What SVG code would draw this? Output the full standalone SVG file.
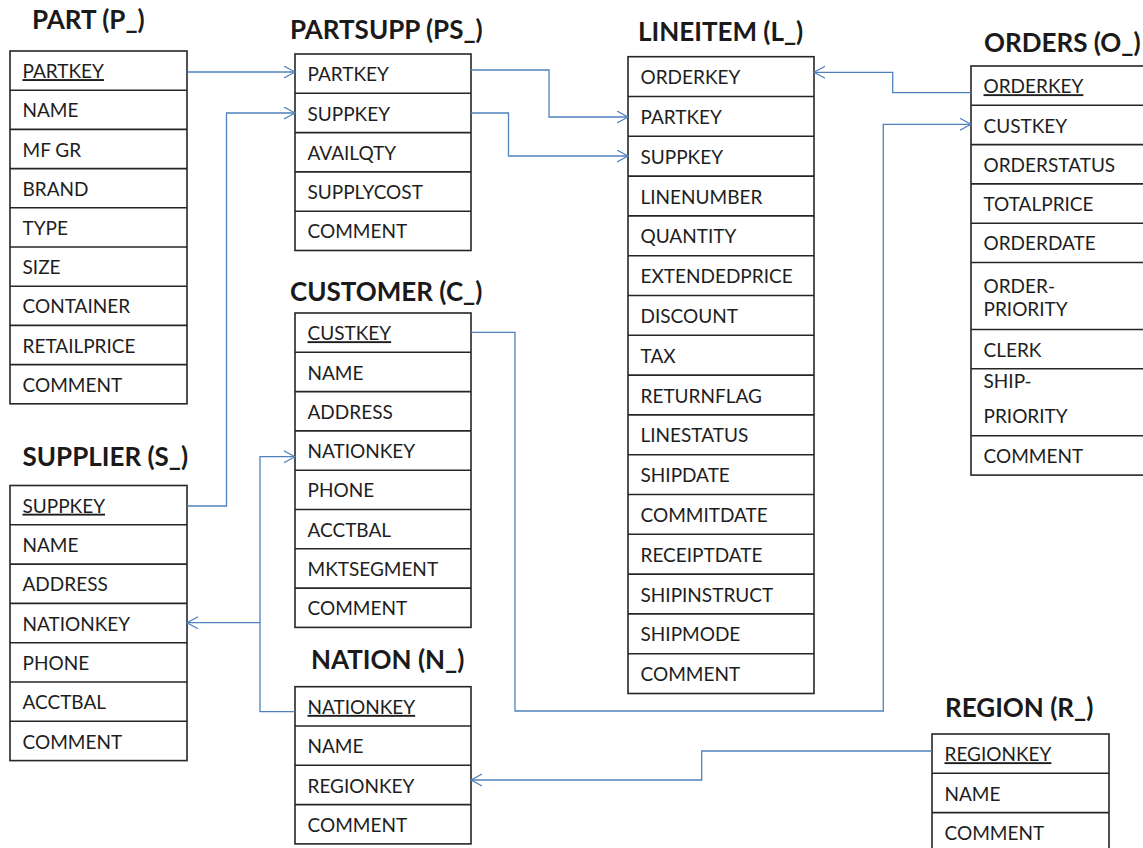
<svg xmlns="http://www.w3.org/2000/svg" width="1143" height="848" viewBox="0 0 1143 848">
  <style>
    .tbl rect, .tbl line { fill: none; stroke: #262626; stroke-width: 1.6; }
    .tbl rect.bg { fill: #ffffff; }
    .fld { font-family: Lato, "Noto Sans", "Liberation Sans", sans-serif; font-size: 19px; fill: #1e1e1e; }
    .key { text-decoration: underline; }
    .ttl { font-family: Lato, "Noto Sans", "Liberation Sans", sans-serif; font-size: 26px; font-weight: bold; fill: #1a1a1a; }
    .conn path { fill: none; stroke: #4f81bd; stroke-width: 1.3; }
    .conn .arw { marker-end: url(#open); }
  </style>
  <defs>
    <marker id="open" markerUnits="userSpaceOnUse" markerWidth="14" markerHeight="14" refX="11" refY="6.5" orient="auto">
      <path d="M0,0.5 L11,6.5 L0,12.5" fill="none" stroke="#4f81bd" stroke-width="1.2"/>
    </marker>
  </defs>
  <rect width="1143" height="848" fill="#ffffff"/>

  <!-- PART -->
  <g id="part" class="tbl">
    <text class="ttl" x="32" y="29">PART (P_)</text>
    <rect class="bg" x="10" y="51" width="177" height="352.8"/>
    <line x1="10" y1="90.2" x2="187" y2="90.2"/>
    <line x1="10" y1="129.4" x2="187" y2="129.4"/>
    <line x1="10" y1="168.6" x2="187" y2="168.6"/>
    <line x1="10" y1="207.8" x2="187" y2="207.8"/>
    <line x1="10" y1="247" x2="187" y2="247"/>
    <line x1="10" y1="286.2" x2="187" y2="286.2"/>
    <line x1="10" y1="325.4" x2="187" y2="325.4"/>
    <line x1="10" y1="364.6" x2="187" y2="364.6"/>
    <text class="fld key" x="22.5" y="78.1">PARTKEY</text>
    <text class="fld" x="22.5" y="117.3">NAME</text>
    <text class="fld" x="22.5" y="156.5">MF GR</text>
    <text class="fld" x="22.5" y="195.7">BRAND</text>
    <text class="fld" x="22.5" y="234.9">TYPE</text>
    <text class="fld" x="22.5" y="274.1">SIZE</text>
    <text class="fld" x="22.5" y="313.3">CONTAINER</text>
    <text class="fld" x="22.5" y="352.5">RETAILPRICE</text>
    <text class="fld" x="22.5" y="391.7">COMMENT</text>
  </g>

  <!-- PARTSUPP -->
  <g id="partsupp" class="tbl">
    <text class="ttl" x="290" y="39">PARTSUPP (PS_)</text>
    <rect class="bg" x="295" y="54" width="176" height="196.5"/>
    <line x1="295" y1="93.3" x2="471" y2="93.3"/>
    <line x1="295" y1="132.6" x2="471" y2="132.6"/>
    <line x1="295" y1="171.9" x2="471" y2="171.9"/>
    <line x1="295" y1="211.2" x2="471" y2="211.2"/>
    <text class="fld" x="307.5" y="81.2">PARTKEY</text>
    <text class="fld" x="307.5" y="120.5">SUPPKEY</text>
    <text class="fld" x="307.5" y="159.8">AVAILQTY</text>
    <text class="fld" x="307.5" y="199.1">SUPPLYCOST</text>
    <text class="fld" x="307.5" y="238.4">COMMENT</text>
  </g>

  <!-- LINEITEM -->
  <g id="lineitem" class="tbl">
    <text class="ttl" x="638" y="41">LINEITEM (L_)</text>
    <rect class="bg" x="628" y="56.7" width="186" height="636.8"/>
    <line x1="628" y1="96.5" x2="814" y2="96.5"/>
    <line x1="628" y1="136.3" x2="814" y2="136.3"/>
    <line x1="628" y1="176.1" x2="814" y2="176.1"/>
    <line x1="628" y1="215.9" x2="814" y2="215.9"/>
    <line x1="628" y1="255.7" x2="814" y2="255.7"/>
    <line x1="628" y1="295.5" x2="814" y2="295.5"/>
    <line x1="628" y1="335.3" x2="814" y2="335.3"/>
    <line x1="628" y1="375.1" x2="814" y2="375.1"/>
    <line x1="628" y1="414.9" x2="814" y2="414.9"/>
    <line x1="628" y1="454.7" x2="814" y2="454.7"/>
    <line x1="628" y1="494.5" x2="814" y2="494.5"/>
    <line x1="628" y1="534.3" x2="814" y2="534.3"/>
    <line x1="628" y1="574.1" x2="814" y2="574.1"/>
    <line x1="628" y1="613.9" x2="814" y2="613.9"/>
    <line x1="628" y1="653.7" x2="814" y2="653.7"/>
    <text class="fld" x="640.5" y="84.1">ORDERKEY</text>
    <text class="fld" x="640.5" y="123.9">PARTKEY</text>
    <text class="fld" x="640.5" y="163.7">SUPPKEY</text>
    <text class="fld" x="640.5" y="203.5">LINENUMBER</text>
    <text class="fld" x="640.5" y="243.3">QUANTITY</text>
    <text class="fld" x="640.5" y="283.1">EXTENDEDPRICE</text>
    <text class="fld" x="640.5" y="322.9">DISCOUNT</text>
    <text class="fld" x="640.5" y="362.7">TAX</text>
    <text class="fld" x="640.5" y="402.5">RETURNFLAG</text>
    <text class="fld" x="640.5" y="442.3">LINESTATUS</text>
    <text class="fld" x="640.5" y="482.1">SHIPDATE</text>
    <text class="fld" x="640.5" y="521.9">COMMITDATE</text>
    <text class="fld" x="640.5" y="561.7">RECEIPTDATE</text>
    <text class="fld" x="640.5" y="601.5">SHIPINSTRUCT</text>
    <text class="fld" x="640.5" y="641.3">SHIPMODE</text>
    <text class="fld" x="640.5" y="681.1">COMMENT</text>
  </g>

  <!-- ORDERS (box runs past the right edge) -->
  <g id="orders" class="tbl">
    <text class="ttl" x="984" y="51.5">ORDERS (O_)</text>
    <rect class="bg" x="971" y="66" width="190" height="409.1"/>
    <line x1="971" y1="105.3" x2="1161" y2="105.3"/>
    <line x1="971" y1="144.6" x2="1161" y2="144.6"/>
    <line x1="971" y1="183.9" x2="1161" y2="183.9"/>
    <line x1="971" y1="223.2" x2="1161" y2="223.2"/>
    <line x1="971" y1="262.5" x2="1161" y2="262.5"/>
    <line x1="971" y1="329.5" x2="1161" y2="329.5"/>
    <line x1="971" y1="368.8" x2="1161" y2="368.8"/>
    <line x1="971" y1="435.8" x2="1161" y2="435.8"/>
    <text class="fld key" x="983.5" y="93.2">ORDERKEY</text>
    <text class="fld" x="983.5" y="132.5">CUSTKEY</text>
    <text class="fld" x="983.5" y="171.8">ORDERSTATUS</text>
    <text class="fld" x="983.5" y="211.1">TOTALPRICE</text>
    <text class="fld" x="983.5" y="250.4">ORDERDATE</text>
    <text class="fld" x="983.5" y="293.3">ORDER-</text>
    <text class="fld" x="983.5" y="316.3">PRIORITY</text>
    <text class="fld" x="983.5" y="356.6">CLERK</text>
    <text class="fld" x="983.5" y="388">SHIP-</text>
    <text class="fld" x="983.5" y="423.3">PRIORITY</text>
    <text class="fld" x="983.5" y="462.9">COMMENT</text>
  </g>

  <!-- CUSTOMER -->
  <g id="customer" class="tbl">
    <text class="ttl" x="290" y="300.7">CUSTOMER (C_)</text>
    <rect class="bg" x="295" y="313" width="176" height="314.4"/>
    <line x1="295" y1="352.3" x2="471" y2="352.3"/>
    <line x1="295" y1="391.6" x2="471" y2="391.6"/>
    <line x1="295" y1="430.9" x2="471" y2="430.9"/>
    <line x1="295" y1="470.2" x2="471" y2="470.2"/>
    <line x1="295" y1="509.5" x2="471" y2="509.5"/>
    <line x1="295" y1="548.8" x2="471" y2="548.8"/>
    <line x1="295" y1="588.1" x2="471" y2="588.1"/>
    <text class="fld key" x="307.5" y="340.2">CUSTKEY</text>
    <text class="fld" x="307.5" y="379.5">NAME</text>
    <text class="fld" x="307.5" y="418.8">ADDRESS</text>
    <text class="fld" x="307.5" y="458.1">NATIONKEY</text>
    <text class="fld" x="307.5" y="497.4">PHONE</text>
    <text class="fld" x="307.5" y="536.7">ACCTBAL</text>
    <text class="fld" x="307.5" y="576">MKTSEGMENT</text>
    <text class="fld" x="307.5" y="615.3">COMMENT</text>
  </g>

  <!-- SUPPLIER -->
  <g id="supplier" class="tbl">
    <text class="ttl" x="22.5" y="466">SUPPLIER (S_)</text>
    <rect class="bg" x="10" y="485.5" width="177" height="275.1"/>
    <line x1="10" y1="524.8" x2="187" y2="524.8"/>
    <line x1="10" y1="564.1" x2="187" y2="564.1"/>
    <line x1="10" y1="603.4" x2="187" y2="603.4"/>
    <line x1="10" y1="642.7" x2="187" y2="642.7"/>
    <line x1="10" y1="682" x2="187" y2="682"/>
    <line x1="10" y1="721.3" x2="187" y2="721.3"/>
    <text class="fld key" x="22.5" y="512.7">SUPPKEY</text>
    <text class="fld" x="22.5" y="552">NAME</text>
    <text class="fld" x="22.5" y="591.3">ADDRESS</text>
    <text class="fld" x="22.5" y="630.6">NATIONKEY</text>
    <text class="fld" x="22.5" y="669.9">PHONE</text>
    <text class="fld" x="22.5" y="709.2">ACCTBAL</text>
    <text class="fld" x="22.5" y="748.5">COMMENT</text>
  </g>

  <!-- NATION -->
  <g id="nation" class="tbl">
    <text class="ttl" x="311" y="669">NATION (N_)</text>
    <rect class="bg" x="295" y="686.7" width="176" height="157.2"/>
    <line x1="295" y1="726" x2="471" y2="726"/>
    <line x1="295" y1="765.3" x2="471" y2="765.3"/>
    <line x1="295" y1="804.6" x2="471" y2="804.6"/>
    <text class="fld key" x="307.5" y="713.9">NATIONKEY</text>
    <text class="fld" x="307.5" y="753.2">NAME</text>
    <text class="fld" x="307.5" y="792.5">REGIONKEY</text>
    <text class="fld" x="307.5" y="831.8">COMMENT</text>
  </g>

  <!-- REGION (box runs past the bottom edge) -->
  <g id="region" class="tbl">
    <text class="ttl" x="945" y="716.7">REGION (R_)</text>
    <rect class="bg" x="932" y="734" width="177" height="130"/>
    <line x1="932" y1="773.3" x2="1109" y2="773.3"/>
    <line x1="932" y1="812.6" x2="1109" y2="812.6"/>
    <text class="fld key" x="944.5" y="761.2">REGIONKEY</text>
    <text class="fld" x="944.5" y="800.5">NAME</text>
    <text class="fld" x="944.5" y="839.8">COMMENT</text>
  </g>

  <!-- foreign-key connectors -->
  <g id="connectors" class="conn">
    <path class="arw" d="M187,72 H295"/>
    <path class="arw" d="M187,506 H226.5 V113 H295"/>
    <path class="arw" d="M471,70 H549 V117 H628"/>
    <path class="arw" d="M471,113 H508.5 V156 H628"/>
    <path class="arw" d="M971,92.7 H892.7 V72.3 H814"/>
    <path class="arw" d="M471,332.3 H515 V711 H883.3 V124.3 H971"/>
    <path class="arw" d="M295,711.7 H260 V456.7 H295"/>
    <path class="arw" d="M260,622.7 H187"/>
    <path class="arw" d="M932,751 H701.7 V780 H471"/>
  </g>
</svg>
